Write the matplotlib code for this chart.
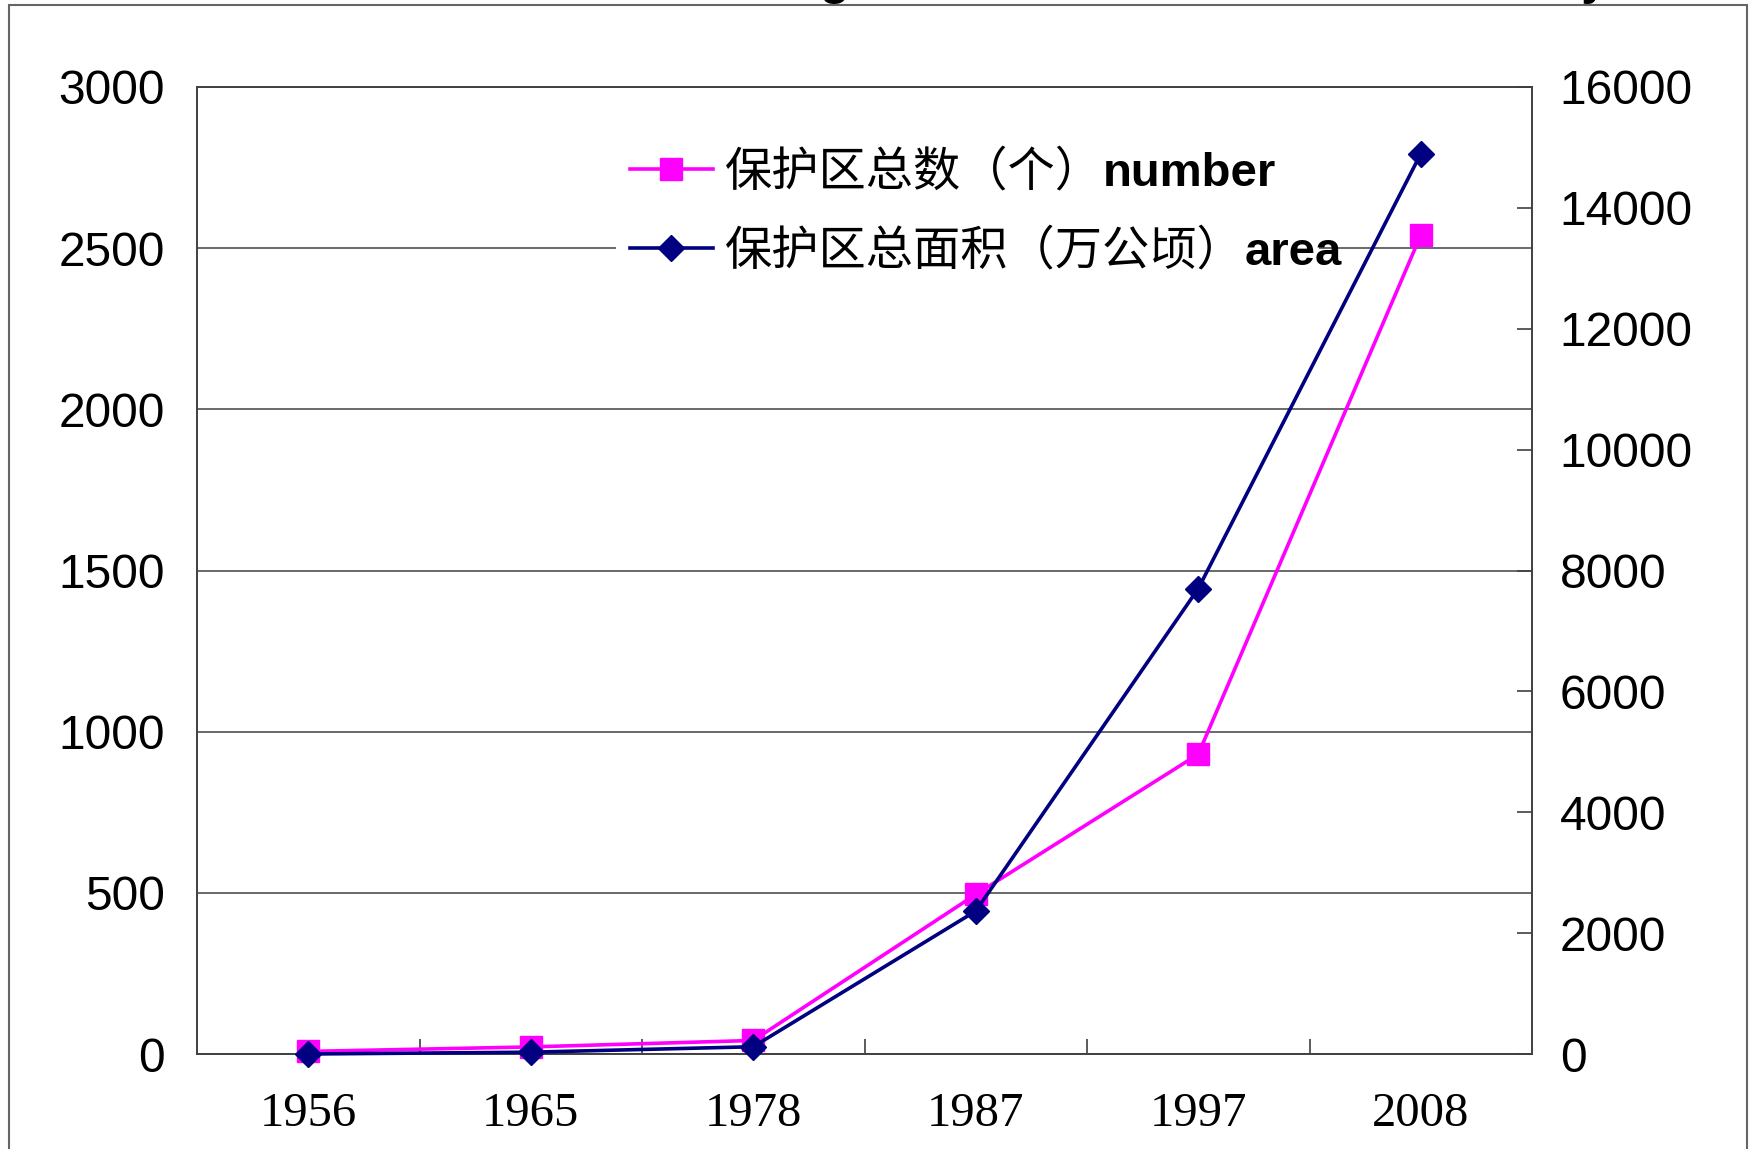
import matplotlib
matplotlib.use("Agg")
import matplotlib.pyplot as plt
import numpy as np
from matplotlib.patches import Rectangle
from matplotlib.ticker import FixedLocator

# ---- data -------------------------------------------------------------
years = ["1956", "1965", "1978", "1987", "1997", "2008"]
reserve_count = [8, 22, 42, 495, 930, 2540]          # 保护区总数（个）
reserve_area = [0, 30, 120, 2365, 7700, 14894]       # 保护区总面积（万公顷）
count_ticks = [0, 500, 1000, 1500, 2000, 2500, 3000]
area_ticks = [0, 2000, 4000, 6000, 8000, 10000, 12000, 14000, 16000]

label_count_cn = "保护区总数（个）"
label_count_en = "number"
label_area_cn = "保护区总面积（万公顷）"
label_area_en = "area"
title_text = "The Change of Nature Reserves in China by Year"

# ---- styling ----------------------------------------------------------
plt.rcParams["font.family"] = ["Liberation Sans", "Noto Sans CJK SC", "DejaVu Sans"]
W, H = 1757, 1149
count_color = "#FF00FF"
area_color = "#000080"
grid_color = "#505050"
spine_color = "#404040"

fig = plt.figure(figsize=(W / 100, H / 100), dpi=100)
ax = fig.add_axes([197 / W, (H - 1054) / H, (1532 - 197) / W, (1054 - 87) / H])

x = np.arange(len(years))

# number of reserves on the left axis
(count_line,) = ax.plot(
    x, reserve_count, color=count_color, lw=2.6, marker="s", ms=16,
    mfc=count_color, mec=count_color, clip_on=False, zorder=3,
)
ax.set_xlim(-0.5, len(years) - 0.5)
ax.set_ylim(0, 3000)
ax.set_yticks(count_ticks)
ax.set_axisbelow(True)
ax.yaxis.grid(True, color=grid_color, lw=1.2)
ax.tick_params(axis="y", length=0, pad=23, labelsize=34.5)

ax.set_xticks(x)
ax.set_xticklabels(years, fontfamily="Liberation Serif", fontsize=35)
ax.tick_params(axis="x", which="major", length=0, pad=27)
ax.xaxis.set_minor_locator(FixedLocator(x[:-1] + 0.5))
ax.tick_params(axis="x", which="minor", direction="in", length=11,
               width=1.2, color=spine_color)

# total area on the right axis
ax2 = ax.twinx()
(area_line,) = ax2.plot(
    x, reserve_area, color=area_color, lw=2.6, marker="D", ms=13,
    mfc=area_color, mec=area_color, clip_on=False, zorder=4,
)
ax2.set_ylim(0, 16000)
ax2.set_yticks(area_ticks)
ax2.tick_params(axis="y", direction="in", length=11, width=1.2,
                color=spine_color, pad=20, labelsize=34.5)

for a in (ax, ax2):
    for s in a.spines.values():
        s.set_color(spine_color)
        s.set_linewidth(1.2)

# legend: Chinese labels, English parts appended in bold afterwards
leg = fig.legend(
    handles=[count_line, area_line],
    labels=[label_count_cn, label_area_cn],
    loc="upper left",
    bbox_to_anchor=(616 / W, 1 - 134 / H),
    bbox_transform=fig.transFigure,
    prop={"family": "Noto Sans CJK SC", "size": 34},
    frameon=True, facecolor="white", edgecolor="none", framealpha=1,
    fancybox=False, borderpad=0.3, borderaxespad=0,
    handlelength=1.75, handletextpad=0.25, labelspacing=0.65,
)

fig.canvas.draw()
renderer = fig.canvas.get_renderer()

# white backing of the legend reaches a little further right
fb = leg.get_frame().get_window_extent(renderer)
fig.add_artist(Rectangle((fb.x1 / W, fb.y0 / H), (1319 - fb.x1) / W, fb.height / H,
                         transform=fig.transFigure, fc="white", ec="none",
                         zorder=4.9))

for t, en in zip(leg.get_texts(), [label_count_en, label_area_en]):
    bb = t.get_window_extent(renderer)
    bx, by = t.get_transform().transform(t.get_position())
    fig.text(bb.x1 / W, by / H, en, fontsize=34, fontweight="bold",
             family="Liberation Sans", va="baseline", ha="left", zorder=6)

# title sitting mostly above the page edge
fig.text(599 / W, 1 + 6 / H, title_text, fontsize=35, fontweight="bold",
         family="Liberation Sans", va="baseline", ha="left", zorder=6)

# outer frame of the chart area
fig.add_artist(Rectangle((8.5 / W, -0.1), (1747 - 8.5) / W, 0.1 + (H - 5) / H,
                         transform=fig.transFigure, fill=False,
                         ec="#666666", lw=1.5, zorder=0.5))

fig.savefig("out.png", dpi=100)
